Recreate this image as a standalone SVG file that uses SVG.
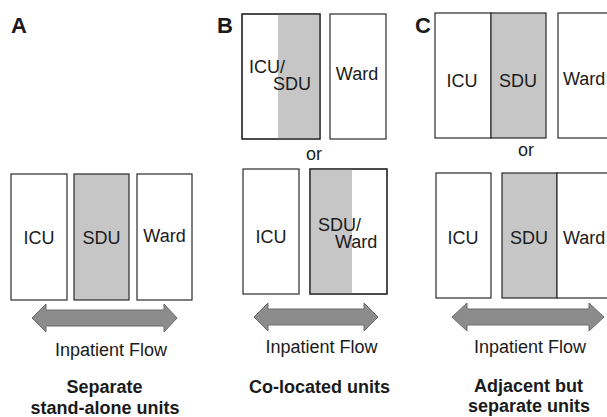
<svg xmlns="http://www.w3.org/2000/svg" width="607" height="417" viewBox="0 0 607 417">
  <style>
    text { font-family: "Liberation Sans", Arial, sans-serif; fill: #1a1a1a; }
    .lbl { font-size: 18px; }
    .mid { text-anchor: middle; }
    .cap { font-size: 18px; font-weight: bold; text-anchor: middle; }
    .panel { font-size: 22px; font-weight: bold; }
    .box { fill: #ffffff; stroke: #2a2a2a; stroke-width: 1.2; }
    .shade { fill: #c6c6c6; }
    .gbox { fill: #c6c6c6; stroke: #2a2a2a; stroke-width: 1.2; }
    .flow { fill: #8c8c8c; stroke: #6a6a6a; stroke-width: 1; }
  </style>

  <!-- Panel letters -->
  <text class="panel" x="11" y="33">A</text>
  <text class="panel" x="217" y="33">B</text>
  <text class="panel" x="415" y="33">C</text>

  <!-- A: separate stand-alone units -->
  <g id="a-icu">
    <rect class="box" x="11" y="174" width="56" height="126"/>
    <text class="lbl mid" x="39" y="244">ICU</text>
  </g>
  <g id="a-sdu">
    <rect class="gbox" x="74" y="174" width="55" height="126"/>
    <text class="lbl mid" x="101.5" y="244">SDU</text>
  </g>
  <g id="a-ward">
    <rect class="box" x="137" y="174" width="55" height="126"/>
    <text class="lbl mid" x="164.5" y="242">Ward</text>
  </g>

  <!-- B: co-located units -->
  <g id="b-icu-sdu">
    <rect class="box" x="242" y="14" width="78" height="125"/>
    <rect class="shade" x="278" y="14.6" width="41.4" height="123.8"/>
    <rect x="242" y="14" width="78" height="125" fill="none" stroke="#2a2a2a" stroke-width="1.2"/>
    <text class="lbl" x="249" y="73">ICU/</text>
    <text class="lbl" x="273" y="90">SDU</text>
  </g>
  <g id="b-ward">
    <rect class="box" x="330" y="14" width="56" height="125"/>
    <text class="lbl mid" x="357" y="80">Ward</text>
  </g>
  <text class="lbl mid" x="314" y="160">or</text>
  <g id="b-icu">
    <rect class="box" x="243" y="169" width="56" height="125"/>
    <text class="lbl mid" x="271" y="243">ICU</text>
  </g>
  <g id="b-sdu-ward">
    <rect class="box" x="310" y="169" width="77" height="125"/>
    <rect class="shade" x="310.6" y="169.6" width="41.4" height="123.8"/>
    <rect x="310" y="169" width="77" height="125" fill="none" stroke="#2a2a2a" stroke-width="1.2"/>
    <text class="lbl" x="318" y="231">SDU/</text>
    <text class="lbl" x="335" y="248">Ward</text>
  </g>

  <!-- C: adjacent but separate units -->
  <g id="c-icu-top">
    <rect class="box" x="435" y="13" width="56" height="125"/>
    <text class="lbl mid" x="462" y="87">ICU</text>
  </g>
  <g id="c-sdu-top">
    <rect class="gbox" x="491" y="13" width="55" height="125"/>
    <text class="lbl mid" x="518" y="87">SDU</text>
  </g>
  <g id="c-ward-top">
    <rect class="box" x="558" y="13" width="60" height="125"/>
    <text class="lbl" x="563" y="85">Ward</text>
  </g>
  <text class="lbl mid" x="526" y="156">or</text>
  <g id="c-icu">
    <rect class="box" x="436" y="173" width="55" height="125"/>
    <text class="lbl mid" x="463" y="244">ICU</text>
  </g>
  <g id="c-sdu">
    <rect class="gbox" x="502" y="173" width="55" height="125"/>
    <text class="lbl mid" x="529" y="244">SDU</text>
  </g>
  <g id="c-ward">
    <rect class="box" x="557" y="173" width="60" height="125"/>
    <text class="lbl" x="563" y="244">Ward</text>
  </g>

  <!-- Double-headed flow arrows -->
  <g id="connectors">
    <path class="flow" d="M32 318 L46 304 L46 310 L164 310 L164 304 L177 318 L164 332 L164 326 L46 326 L46 332 Z"/>
    <path class="flow" d="M254 317 L268 303 L268 309 L364 309 L364 303 L378 317 L364 331 L364 325 L268 325 L268 331 Z"/>
    <path class="flow" d="M452 317 L467 303 L467 309 L589 309 L589 303 L604 317 L589 331 L589 325 L467 325 L467 331 Z"/>
  </g>

  <text class="lbl mid" x="111" y="356">Inpatient Flow</text>
  <text class="lbl mid" x="321.5" y="353">Inpatient Flow</text>
  <text class="lbl mid" x="530" y="353">Inpatient Flow</text>

  <!-- Captions -->
  <text class="cap" x="104.5" y="393">Separate</text>
  <text class="cap" x="105" y="414">stand-alone units</text>
  <text class="cap" x="319.5" y="393">Co-located units</text>
  <text class="cap" x="528.5" y="392">Adjacent but</text>
  <text class="cap" x="529" y="412">separate units</text>
</svg>
